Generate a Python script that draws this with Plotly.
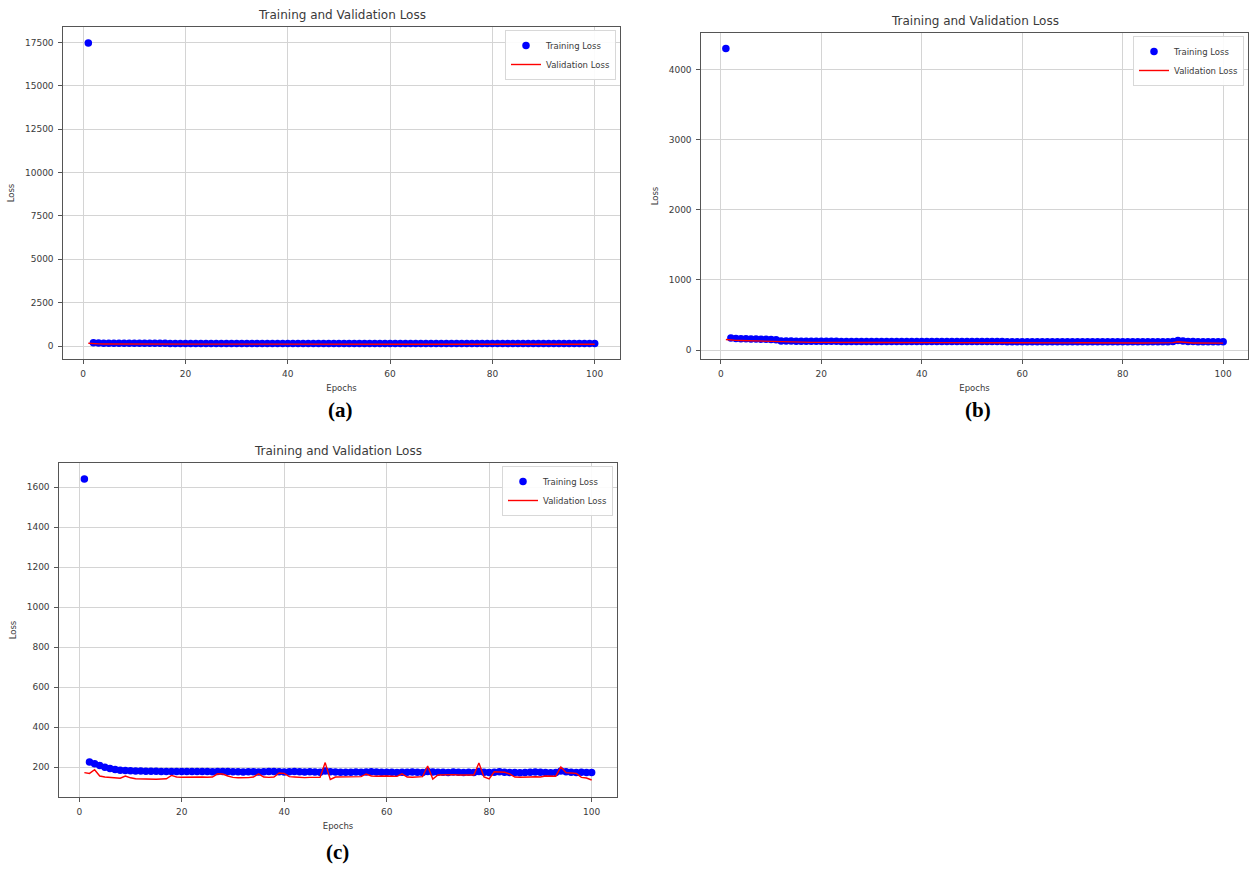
import plotly.graph_objects as go

# ---------------- data ----------------
epochs = list(range(1, 101))

a_train = [17480, 185, 170, 164, 160, 158, 157, 156, 155, 154,
           154, 153, 153, 152, 152, 152, 151, 151, 151, 150,
           150, 150, 150, 149, 149, 149, 149, 149, 148, 148,
           148, 148, 148, 147, 147, 147, 147, 147, 147, 146,
           146, 146, 146, 146, 146, 146, 145, 145, 145, 145,
           145, 145, 145, 145, 144, 144, 144, 144, 144, 144,
           144, 144, 144, 143, 143, 143, 143, 143, 143, 143,
           143, 143, 143, 142, 142, 142, 142, 142, 142, 142,
           142, 142, 142, 142, 141, 141, 141, 141, 141, 141,
           141, 141, 141, 141, 141, 140, 140, 140, 140, 140]
a_val = [160, 130, 122, 118, 115, 113, 112, 111, 110, 110,
         109, 110, 108, 109, 108, 107, 109, 108, 107, 107,
         108, 106, 107, 106, 108, 106, 105, 107, 106, 105,
         106, 105, 107, 105, 104, 106, 105, 104, 105, 104,
         105, 104, 106, 104, 103, 105, 104, 103, 104, 103,
         104, 103, 105, 103, 102, 104, 103, 102, 103, 102,
         103, 102, 104, 102, 101, 103, 102, 101, 102, 101,
         102, 101, 103, 101, 100, 102, 101, 100, 101, 100,
         101, 100, 102, 100, 99, 101, 100, 99, 100, 99,
         100, 99, 101, 99, 98, 100, 99, 98, 99, 98]

b_train = [4300, 170, 165, 162, 160, 158, 157, 155, 152, 150,
           146, 130, 128, 127, 126, 126, 125, 125, 125, 124,
           124, 124, 124, 123, 123, 123, 123, 123, 122, 122,
           122, 122, 122, 122, 122, 121, 121, 121, 121, 121,
           121, 121, 121, 121, 120, 120, 120, 120, 120, 120,
           120, 120, 120, 120, 120, 120, 119, 119, 119, 119,
           119, 119, 119, 119, 119, 119, 119, 119, 118, 118,
           118, 118, 118, 118, 118, 118, 118, 118, 118, 118,
           118, 118, 118, 117, 117, 117, 117, 117, 117, 120,
           135, 128, 122, 120, 119, 118, 118, 117, 117, 117]
b_val = [150, 140, 138, 135, 133, 131, 130, 128, 126, 124,
         118, 112, 111, 110, 110, 109, 110, 109, 109, 108,
         109, 108, 108, 109, 107, 108, 107, 108, 107, 107,
         108, 107, 106, 107, 106, 107, 106, 106, 107, 106,
         105, 106, 105, 106, 105, 105, 106, 105, 104, 105,
         104, 105, 104, 104, 105, 104, 103, 104, 103, 104,
         103, 103, 104, 103, 102, 103, 102, 103, 102, 102,
         103, 102, 101, 102, 101, 102, 101, 101, 102, 101,
         100, 101, 100, 101, 100, 100, 101, 100, 99, 105,
         118, 110, 104, 101, 100, 100, 99, 100, 99, 99]

c_train = [1640, 225, 216, 207, 199, 192, 187, 184, 182, 181,
           180, 180, 179, 179, 179, 178, 178, 177, 178, 178,
           178, 177, 178, 177, 177, 176, 177, 178, 177, 176,
           176, 175, 176, 176, 175, 176, 177, 178, 176, 175,
           176, 177, 176, 175, 176, 175, 174, 180, 176, 175,
           174, 174, 174, 175, 174, 175, 176, 175, 174, 174,
           174, 173, 174, 174, 175, 174, 173, 178, 175, 174,
           174, 173, 175, 174, 173, 174, 173, 178, 174, 173,
           174, 176, 174, 173, 172, 171, 172, 174, 175, 174,
           172, 171, 172, 180, 176, 174, 173, 174, 173, 172]
c_val = [172, 168, 186, 155, 150, 149, 147, 144, 155, 146,
         141, 140, 139, 140, 139, 140, 141, 158, 150, 149,
         150, 149, 150, 150, 149, 150, 166, 165, 155, 148,
         146, 145, 147, 150, 166, 150, 148, 150, 170, 168,
         152, 150, 148, 147, 148, 147, 149, 222, 138, 150,
         150, 149, 151, 150, 152, 165, 155, 154, 156, 155,
         154, 153, 166, 150, 149, 150, 152, 205, 140, 160,
         161, 160, 162, 160, 159, 161, 160, 220, 150, 140,
         176, 175, 174, 165, 150, 149, 148, 150, 151, 150,
         155, 156, 154, 200, 172, 170, 168, 148, 145, 135]

x_ticks = [0, 20, 40, 60, 80, 100]
a_yticks = [0, 2500, 5000, 7500, 10000, 12500, 15000, 17500]
b_yticks = [0, 1000, 2000, 3000, 4000]
c_yticks = [200, 400, 600, 800, 1000, 1200, 1400, 1600]

panel_title = "Training and Validation Loss"
panel_labels = ["(a)", "(b)", "(c)"]

# ---------------- figure ----------------
W, H = 1250, 872
FONT = "DejaVu Sans"
TXT = "#3a3a3a"

def px_x(p):
    return p / W

def px_y(p):
    return 1 - p / H

fig = go.Figure()

panels = [
    ("", a_train, a_val, a_yticks, [-750, 18400], (63, 620), (27, 359), "legend"),
    ("2", b_train, b_val, b_yticks, [-128, 4520], (701, 1248), (33, 359), "legend2"),
    ("3", c_train, c_val, c_yticks, [50, 1720], (59, 617), (463, 797), "legend3"),
]

layout_updates = {}
annotations = []
for i, (suf, tr, va, yt, yr, xd, yd, lg) in enumerate(panels):
    xa = "x" + suf
    ya = "y" + suf
    fig.add_trace(go.Scatter(
        x=epochs, y=tr, mode="markers", name="Training Loss",
        marker=dict(color="#0000ff", size=7.5, line=dict(width=0)),
        xaxis=xa, yaxis=ya, legend=lg))
    fig.add_trace(go.Scatter(
        x=epochs, y=va, mode="lines", name="Validation Loss",
        line=dict(color="#ff0000", width=1.4),
        xaxis=xa, yaxis=ya, legend=lg))

    axis_common = dict(
        showline=True, mirror=True, linecolor="#555555", linewidth=1.2,
        showgrid=True, gridcolor="#d4d4d4", gridwidth=1,
        zeroline=False, ticks="outside", ticklen=3.5, tickcolor="#555555",
        tickfont=dict(family=FONT, size=9, color=TXT), ticklabelstandoff=3,
    )
    layout_updates["xaxis" + suf] = dict(
        axis_common,
        domain=[px_x(xd[0]), px_x(xd[1])],
        range=[-3.95, 104.95], tickvals=x_ticks, tickformat="d",
        anchor=ya,
        title=dict(text="Epochs", font=dict(family=FONT, size=8.5, color=TXT), standoff=6),
    )
    layout_updates["yaxis" + suf] = dict(
        axis_common,
        domain=[px_y(yd[1]), px_y(yd[0])],
        range=yr, tickvals=yt, tickformat="d",
        anchor=xa,
        title=dict(text="Loss", font=dict(family=FONT, size=8.5, color=TXT), standoff=8),
    )
    layout_updates[lg] = dict(
        x=px_x(xd[1] - 4), y=px_y(yd[0] + 3), xanchor="right", yanchor="top",
        bgcolor="rgba(255,255,255,0.9)", bordercolor="#d8d8d8", borderwidth=1,
        font=dict(family=FONT, size=8.5, color=TXT),
        tracegroupgap=0, itemwidth=30,
    )
    annotations.append(dict(
        text=panel_title, x=(px_x(xd[0]) + px_x(xd[1])) / 2, y=px_y(yd[0] - 3),
        xref="paper", yref="paper", xanchor="center", yanchor="bottom",
        showarrow=False, font=dict(family=FONT, size=12, color=TXT)))

label_pos = [(340, 410), (978, 410), (337, 852)]
for lab, (lx, ly) in zip(panel_labels, label_pos):
    annotations.append(dict(
        text="<b>" + lab + "</b>", x=px_x(lx), y=px_y(ly),
        xref="paper", yref="paper", xanchor="center", yanchor="middle",
        showarrow=False, font=dict(family="Liberation Serif", size=21, color="#000000")))

fig.update_layout(
    width=W, height=H, margin=dict(l=0, r=0, t=0, b=0),
    paper_bgcolor="white", plot_bgcolor="white",
    showlegend=True, annotations=annotations,
    **layout_updates,
)

fig.write_html(
    "out.html",
    config={"displayModeBar": False},
    post_script="document.body.style.margin='0px';document.body.style.overflow='hidden';",
)
